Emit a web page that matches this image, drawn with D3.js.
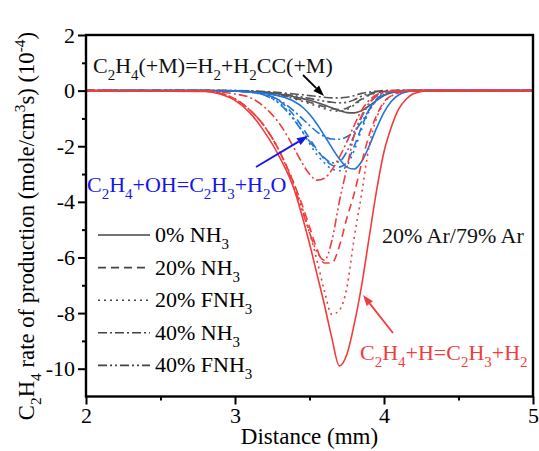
<!DOCTYPE html>
<html>
<head>
<meta charset="utf-8">
<script src="https://cdn.jsdelivr.net/npm/d3@7"></script>
<style>
  html, body { margin: 0; padding: 0; background: #fff; }
  svg { display: block; }
  svg text { font-family: "Liberation Serif", "Times New Roman", serif; }
</style>
</head>
<body>
<svg id="chart" width="539" height="451"></svg>
<script>
// Distance grid (mm) shared by every series
const distance = [2.0, 2.8, 2.9, 3.0, 3.1, 3.2, 3.3, 3.4, 3.45, 3.5, 3.55, 3.6, 3.65, 3.7,
                  3.75, 3.8, 3.85, 3.9, 3.95, 4.0, 4.05, 4.1, 4.15, 4.2, 4.3, 5.0];

// C2H4+H=C2H3+H2 rate (1e-4 mole/cm3 s)
const rH_0NH3   = [0, -0.03, -0.12, -0.35, -0.8, -1.5, -2.4, -3.6, -4.5, -5.5, -6.6, -7.7, -8.9, -9.9,
                   -9.5, -8.4, -7.0, -5.3, -3.6, -2.2, -1.3, -0.65, -0.3, -0.1, 0, 0];
const rH_20NH3  = [0, -0.02, -0.1, -0.3, -0.7, -1.3, -2.2, -3.4, -4.1, -4.9, -5.7, -6.2, -6.2, -5.6,
                   -4.6, -3.7, -2.6, -1.6, -0.9, -0.4, -0.18, -0.07, -0.02, 0, 0, 0];
const rH_20FNH3 = [0, -0.02, -0.1, -0.3, -0.7, -1.3, -2.2, -3.4, -4.2, -5.1, -6.1, -7.2, -8.05, -7.9,
                   -7.1, -5.3, -3.7, -2.0, -1.0, -0.45, -0.2, -0.07, -0.02, 0, 0, 0];
const rH_40NH3  = [0, -0.01, -0.05, -0.12, -0.25, -0.6, -1.2, -2.1, -2.6, -3.0, -3.22, -3.15, -2.85, -2.4,
                   -1.85, -1.25, -0.7, -0.35, -0.15, -0.06, -0.02, 0, 0, 0, 0, 0];
const rH_40FNH3 = [0, -0.02, -0.1, -0.3, -0.7, -1.3, -2.2, -3.5, -4.3, -5.1, -5.8, -6.1, -5.4, -4.0,
                   -2.8, -1.6, -0.9, -0.45, -0.2, -0.08, -0.03, 0, 0, 0, 0, 0];

// C2H4+OH=C2H3+H2O rate
const rOH_0NH3   = [0, 0, -0.01, -0.02, -0.05, -0.1, -0.2, -0.4, -0.58, -0.85, -1.2, -1.62, -2.05, -2.45,
                    -2.75, -2.82, -2.55, -2.0, -1.35, -0.78, -0.38, -0.15, -0.05, -0.01, 0, 0];
const rOH_20NH3  = [0, 0, -0.01, -0.02, -0.05, -0.13, -0.38, -0.92, -1.3, -1.72, -2.12, -2.46, -2.68, -2.75,
                    -2.58, -2.0, -1.3, -0.68, -0.3, -0.12, -0.04, -0.01, 0, 0, 0, 0];
const rOH_20FNH3 = [0, 0, -0.01, -0.02, -0.06, -0.16, -0.45, -1.05, -1.45, -1.9, -2.3, -2.6, -2.82, -2.88,
                    -2.7, -2.15, -1.4, -0.75, -0.35, -0.14, -0.05, -0.02, 0, 0, 0, 0];
const rOH_40NH3  = [0, 0, -0.01, -0.02, -0.05, -0.13, -0.35, -0.75, -1.0, -1.25, -1.48, -1.65, -1.74, -1.75,
                    -1.66, -1.47, -1.12, -0.7, -0.36, -0.15, -0.05, -0.01, 0, 0, 0, 0];
const rOH_40FNH3 = [0, 0, -0.01, -0.02, -0.06, -0.17, -0.48, -1.08, -1.45, -1.82, -2.15, -2.42, -2.6, -2.55,
                    -2.2, -1.6, -0.95, -0.48, -0.2, -0.08, -0.02, 0, 0, 0, 0, 0];

// C2H4(+M)=H2+H2CC(+M) rate
const rM_0NH3   = [0, 0, 0, -0.01, -0.03, -0.06, -0.12, -0.22, -0.28, -0.35, -0.43, -0.52, -0.62, -0.72,
                   -0.79, -0.8, -0.72, -0.55, -0.35, -0.18, -0.08, -0.03, -0.01, 0, 0, 0];
const rM_20NH3  = [0, 0, 0, -0.01, -0.03, -0.07, -0.15, -0.27, -0.34, -0.42, -0.5, -0.58, -0.65, -0.68,
                   -0.63, -0.48, -0.3, -0.15, -0.07, -0.03, -0.01, 0, 0, 0, 0, 0];
const rM_20FNH3 = [0, 0, 0, -0.01, -0.03, -0.08, -0.17, -0.3, -0.38, -0.47, -0.56, -0.65, -0.72, -0.74,
                   -0.68, -0.52, -0.33, -0.17, -0.08, -0.03, -0.01, 0, 0, 0, 0, 0];
const rM_40NH3  = [0, 0, 0, 0, -0.01, -0.03, -0.07, -0.12, -0.15, -0.18, -0.21, -0.24, -0.26, -0.26,
                   -0.24, -0.18, -0.1, -0.05, -0.02, 0, 0, 0, 0, 0, 0, 0];
const rM_40FNH3 = [0, 0, 0, 0, -0.02, -0.05, -0.1, -0.18, -0.23, -0.28, -0.33, -0.38, -0.42, -0.44,
                   -0.42, -0.33, -0.2, -0.1, -0.04, -0.01, 0, 0, 0, 0, 0, 0];

// Legend entries / cases
const cases = ["0% NH_3", "20% NH_3", "20% FNH_3", "40% NH_3", "40% FNH_3"];
const xTicks = [2, 3, 4, 5];
const yTicks = [2, 0, -2, -4, -6, -8, -10];

const dashes = [null, "8,5", "2,4", "9,3,2,3", "9,3,2,3,2,3"];
const colors = { M: "#555555", OH: "#1f74dc", H: "#f23c3c" };

const groups = [
  { key: "M",  series: [rM_0NH3, rM_20NH3, rM_20FNH3, rM_40NH3, rM_40FNH3] },
  { key: "OH", series: [rOH_0NH3, rOH_20NH3, rOH_20FNH3, rOH_40NH3, rOH_40FNH3] },
  { key: "H",  series: [rH_0NH3, rH_20NH3, rH_20FNH3, rH_40NH3, rH_40FNH3] }
];

const FONT = "'Liberation Serif', 'Times New Roman', serif";
const svg = d3.select("#chart").style("font-family", FONT);
const plotL = 86, plotR = 533, plotT = 35, plotB = 396.5;

const x = d3.scaleLinear().domain([2, 5]).range([plotL, plotR]);
const y = d3.scaleLinear().domain([-11, 2]).range([plotB, plotT]);

svg.append("rect").attr("width", 539).attr("height", 451).attr("fill", "#fff");

// Writes text with _x / _{..} subscripts and ^x / ^{..} superscripts
function rich(sel, str, size) {
  const parts = [];
  let i = 0, buf = "";
  while (i < str.length) {
    const c = str[i];
    if (c === "_" || c === "^") {
      if (buf) { parts.push([buf, 0]); buf = ""; }
      let s;
      if (str[i + 1] === "{") { const j = str.indexOf("}", i); s = str.slice(i + 2, j); i = j + 1; }
      else { s = str[i + 1]; i += 2; }
      parts.push([s, c === "_" ? 1 : -1]);
    } else { buf += c; i++; }
  }
  if (buf) parts.push([buf, 0]);
  const sub = size * 0.32, sup = size * 0.38;
  let shift = 0;
  sel.style("font-family", FONT);
  parts.forEach(([t, m]) => {
    const target = m === 1 ? sub : (m === -1 ? -sup : 0);
    sel.append("tspan")
      .attr("dy", target - shift)
      .attr("font-size", m ? size * 0.68 : size)
      .text(t);
    shift = target;
  });
  return sel;
}

function plain(sel, str) {
  return sel.style("font-family", FONT).text(str);
}

const defs = svg.append("defs");
defs.append("clipPath").attr("id", "plotClip")
  .append("rect").attr("x", plotL).attr("y", plotT).attr("width", plotR - plotL).attr("height", plotB - plotT);

// Curves
const line = d3.line().x((d, i) => x(distance[i])).y(d => y(d)).curve(d3.curveMonotoneX);
const curves = svg.append("g").attr("clip-path", "url(#plotClip)");
groups.forEach(g => {
  g.series.forEach((vals, k) => {
    curves.append("path")
      .attr("d", line(vals))
      .attr("fill", "none")
      .attr("stroke", colors[g.key])
      .attr("stroke-width", 1.6)
      .attr("stroke-dasharray", dashes[k]);
  });
});

// Axes
const fmt = d => String(d).replace("\u2212", "-");
const yAxis = svg.append("g").attr("transform", `translate(${plotL},0)`)
  .call(d3.axisLeft(y).tickValues(yTicks).tickSize(8).tickPadding(3).tickFormat(fmt));
const yMinor = svg.append("g").attr("transform", `translate(${plotL},0)`)
  .call(d3.axisLeft(y).tickValues([1, -1, -3, -5, -7, -9]).tickSize(4).tickFormat(""));
const xAxis = svg.append("g").attr("transform", `translate(0,${plotB})`)
  .call(d3.axisBottom(x).tickValues(xTicks).tickSize(8).tickPadding(3).tickFormat(d3.format("d")));
const xMinor = svg.append("g").attr("transform", `translate(0,${plotB})`)
  .call(d3.axisBottom(x).tickValues([2.5, 3.5, 4.5]).tickSize(4).tickFormat(""));

[yAxis, yMinor, xAxis, xMinor].forEach(a => {
  a.attr("font-family", null).attr("font-size", null);
  a.select(".domain").remove();
  a.selectAll(".tick line").attr("stroke", "#000").attr("stroke-width", 2);
  a.selectAll("text").style("font-family", FONT).attr("font-size", 22).attr("fill", "#000");
});

// Frame
svg.append("rect")
  .attr("x", plotL).attr("y", plotT).attr("width", plotR - plotL).attr("height", plotB - plotT)
  .attr("fill", "none").attr("stroke", "#000").attr("stroke-width", 2.4);

// Axis titles
plain(svg.append("text").attr("x", (plotL + plotR) / 2).attr("y", 444)
  .attr("text-anchor", "middle").attr("font-size", 23), "Distance (mm)");

rich(svg.append("text")
  .attr("transform", "translate(34,226) rotate(-90)")
  .attr("text-anchor", "middle").attr("font-size", 22.7),
  "C_2H_4 rate of production (mole/cm^3s) (10^{-4})", 22.7);

// Legend
const leg = svg.append("g");
cases.forEach((c, k) => {
  const yy = 235 + k * 32.6;
  leg.append("line").attr("x1", 98).attr("x2", 150).attr("y1", yy).attr("y2", yy)
    .attr("stroke", "#444").attr("stroke-width", 1.6).attr("stroke-dasharray", dashes[k]);
  rich(leg.append("text").attr("x", 155).attr("y", yy + 7).attr("font-size", 22), c, 22);
});

// Arrow helper
function arrow(x1, y1, x2, y2, color) {
  const ang = Math.atan2(y2 - y1, x2 - x1);
  const L = 11, W = 4;
  const bx = x2 - L * Math.cos(ang), by = y2 - L * Math.sin(ang);
  svg.append("line").attr("x1", x1).attr("y1", y1).attr("x2", bx).attr("y2", by)
    .attr("stroke", color).attr("stroke-width", 1.8);
  svg.append("path")
    .attr("d", `M${x2},${y2}L${bx + W * Math.sin(ang)},${by - W * Math.cos(ang)}L${bx - W * Math.sin(ang)},${by + W * Math.cos(ang)}Z`)
    .attr("fill", color);
}

// Reaction annotations
rich(svg.append("text").attr("x", 93).attr("y", 73).attr("font-size", 22).attr("fill", "#111"),
  "C_2H_4(+M)=H_2+H_2CC(+M)", 22);
arrow(303, 75, 324, 96, "#000");

rich(svg.append("text").attr("x", 87).attr("y", 192).attr("font-size", 22).attr("fill", "#1515ee"),
  "C_2H_4+OH=C_2H_3+H_2O", 22);
arrow(256, 167, 308, 136, "#1515ee");

rich(svg.append("text").attr("x", 360).attr("y", 360).attr("font-size", 22).attr("fill", "#f23c3c"),
  "C_2H_4+H=C_2H_3+H_2", 22);
arrow(393, 333, 363, 295, "#f23c3c");

plain(svg.append("text").attr("x", 382).attr("y", 243).attr("font-size", 22).attr("fill", "#111"),
  "20% Ar/79% Ar");
</script>
</body>
</html>
